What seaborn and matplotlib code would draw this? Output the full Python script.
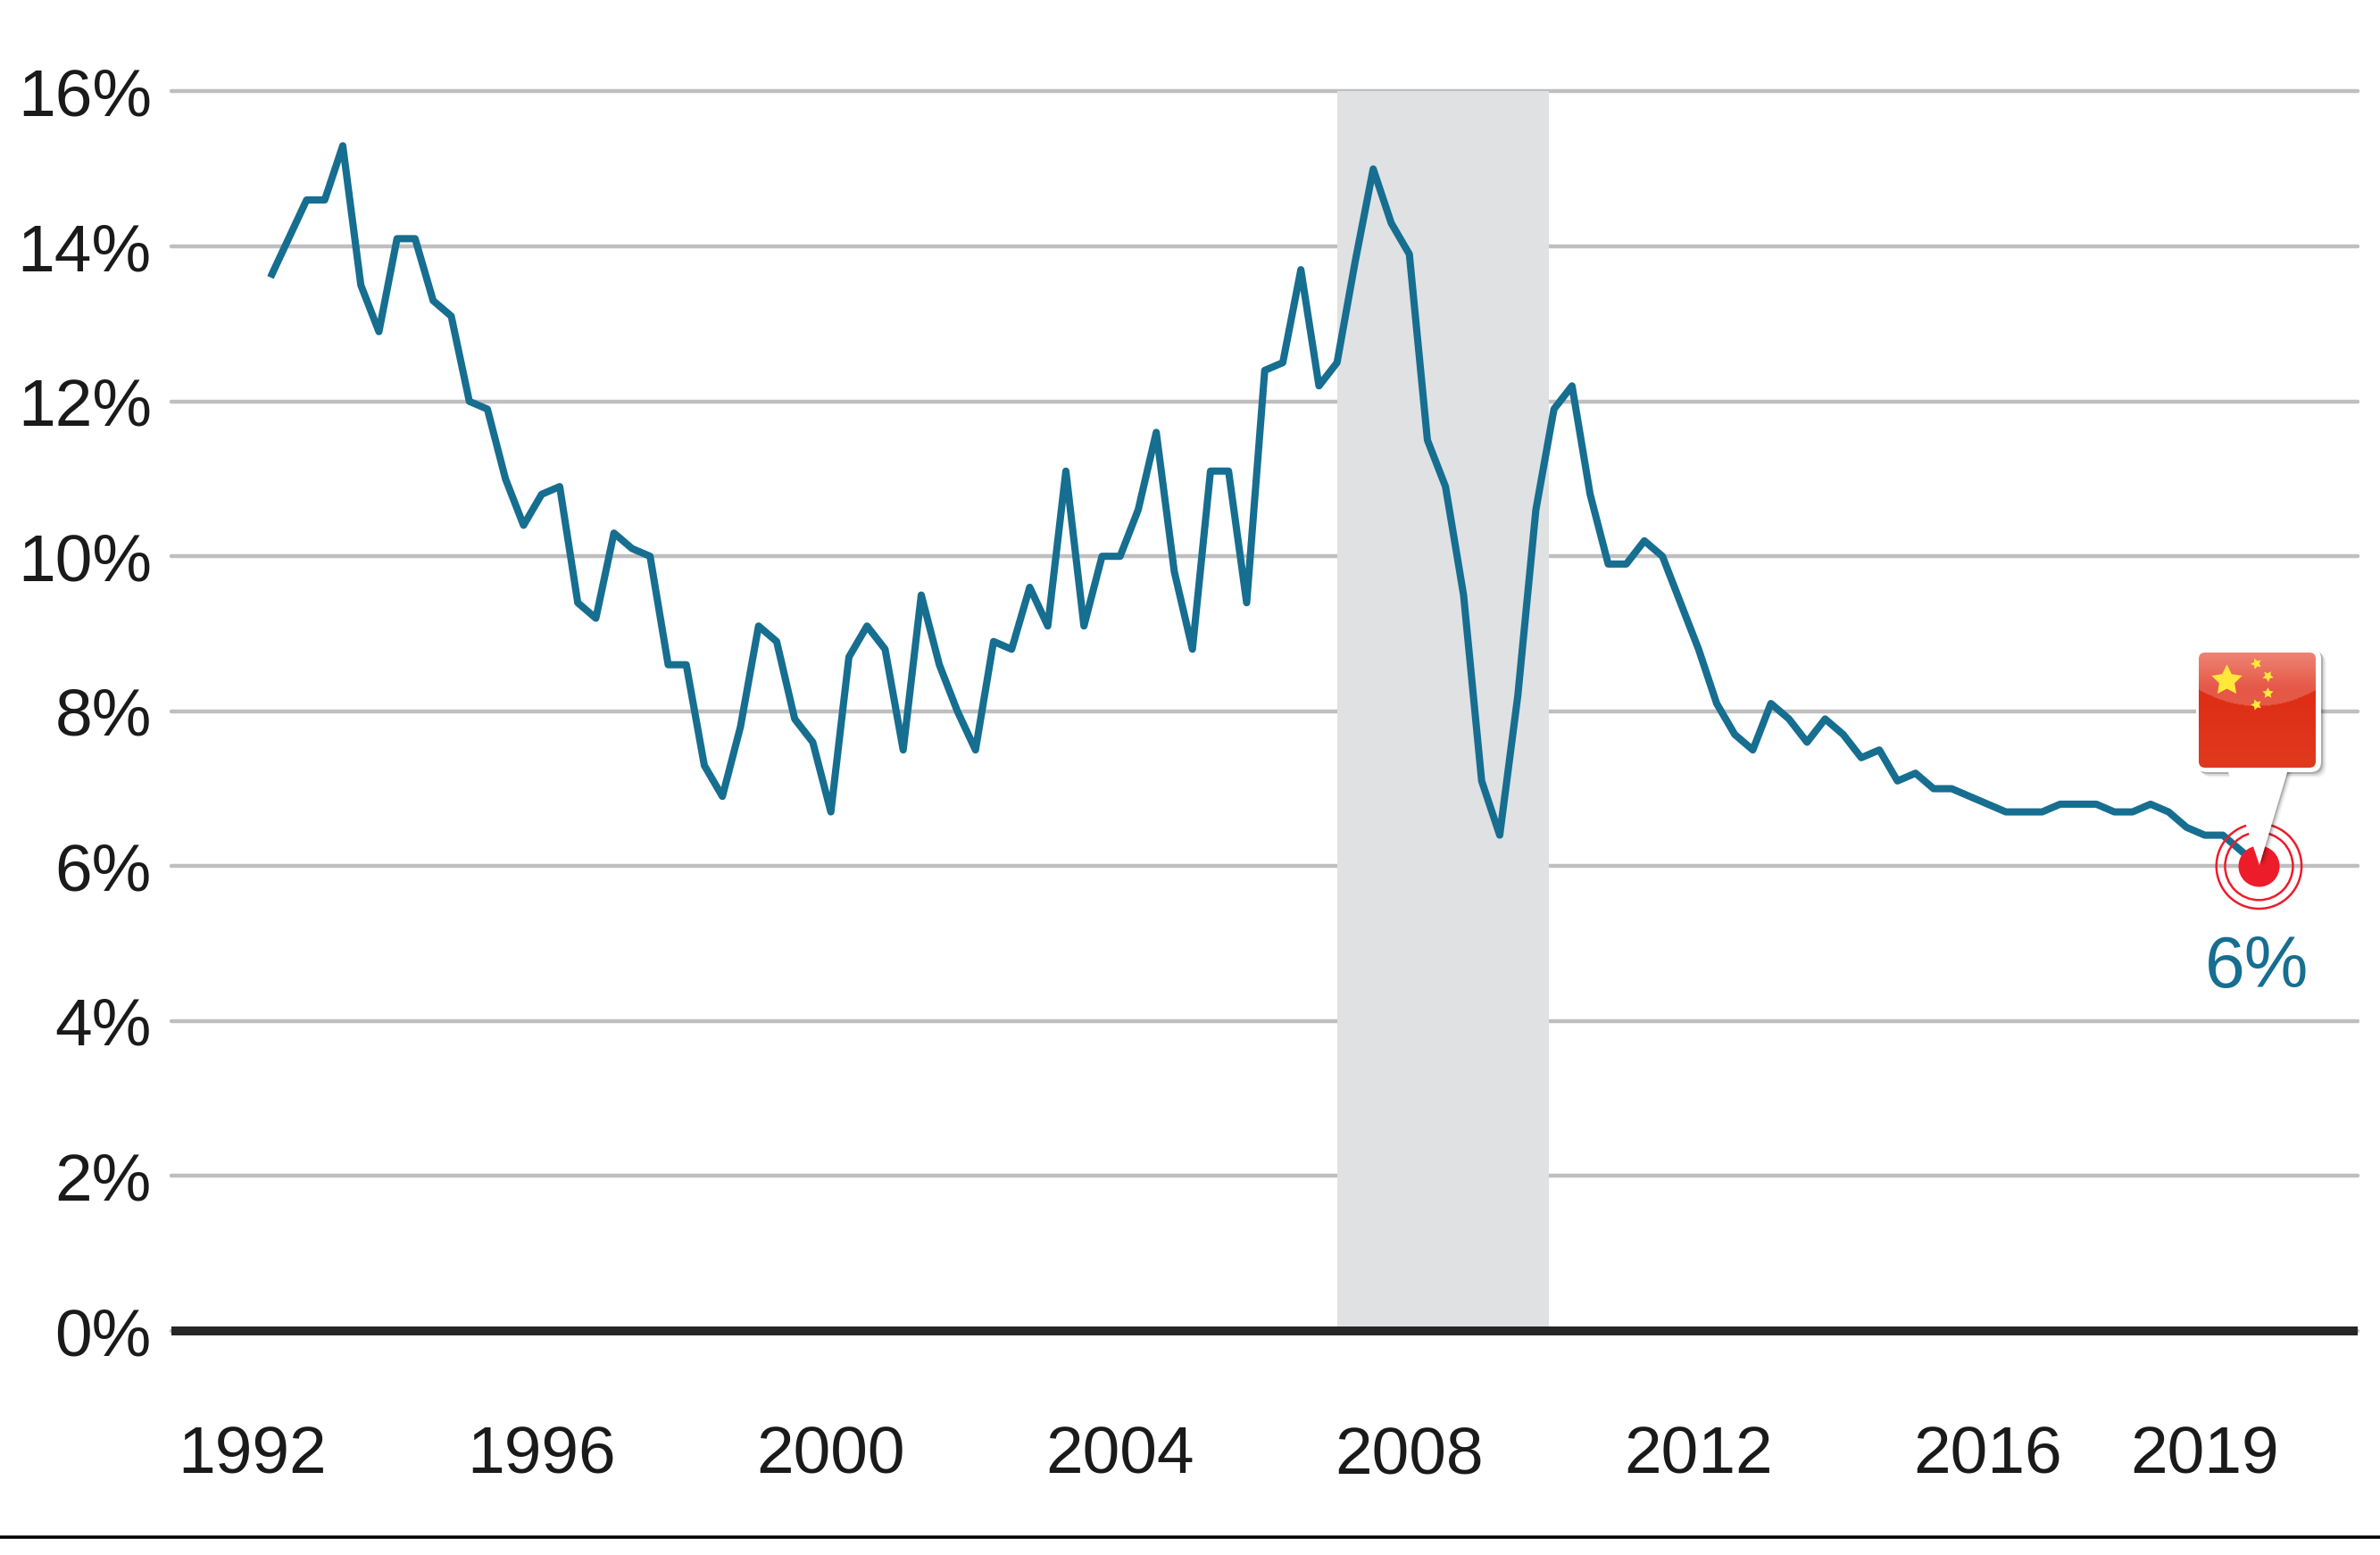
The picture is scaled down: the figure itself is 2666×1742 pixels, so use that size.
import numpy as np
import pandas as pd
import seaborn as sns
import matplotlib
matplotlib.use('Agg')
from matplotlib import pyplot as plt
from matplotlib.lines import Line2D
from matplotlib.patches import FancyBboxPatch, Polygon

# China GDP growth, quarterly, 1992 Q1 to 2019 Q3
growth = [13.6, 14.1, 14.6, 14.6, 15.3, 13.5, 12.9, 14.1, 14.1, 13.3, 13.1, 12.0,
          11.9, 11.0, 10.4, 10.8, 10.9, 9.4, 9.2, 10.3, 10.1, 10.0, 8.6, 8.6,
          7.3, 6.9, 7.8, 9.1, 8.9, 7.9, 7.6, 6.7, 8.7, 9.1, 8.8, 7.5,
          9.5, 8.6, 8.0, 7.5, 8.9, 8.8, 9.6, 9.1, 11.1, 9.1, 10.0, 10.0,
          10.6, 11.6, 9.8, 8.8, 11.1, 11.1, 9.4, 12.4, 12.5, 13.7, 12.2, 12.5,
          13.8, 15.0, 14.3, 13.9, 11.5, 10.9, 9.5, 7.1, 6.4, 8.2, 10.6, 11.9,
          12.2, 10.8, 9.9, 9.9, 10.2, 10.0, 9.4, 8.8, 8.1, 7.7, 7.5, 8.1,
          7.9, 7.6, 7.9, 7.7, 7.4, 7.5, 7.1, 7.2, 7.0, 7.0, 6.9, 6.8,
          6.7, 6.7, 6.7, 6.8, 6.8, 6.8, 6.7, 6.7, 6.8, 6.7, 6.5, 6.4,
          6.4, 6.2, 6.0]
year_labels = ['1992', '1996', '2000', '2004', '2008', '2012', '2016', '2019']
year_ticks = [-1, 15, 31, 47, 63, 79, 95, 107]
pct_ticks = [0, 2, 4, 6, 8, 10, 12, 14, 16]
shade_span = [59, 70.7]

BLUE = '#166E90'
RED = '#ED1C2A'
INK = '#1A1A1A'

sns.set_theme(style='white')
plt.rcParams['font.family'] = ['Liberation Sans', 'DejaVu Sans']

W, H = 2666, 1742
fig = plt.figure(figsize=(W / 100, H / 100), dpi=100, facecolor='white')
ax = fig.add_axes([192 / W, 1 - 1491 / H, (2641 - 192) / W, (1491 - 102.5) / H])

df = pd.DataFrame({'quarter': np.arange(len(growth)), 'growth': growth})

ax.axvspan(shade_span[0], shade_span[1], color='#DFE1E3', lw=0, zorder=1.5)
sns.lineplot(data=df, x='quarter', y='growth', ax=ax, color=BLUE, linewidth=5.8,
             estimator=None, zorder=3, solid_joinstyle='round', solid_capstyle='butt')

last_x, last_y = df.quarter.iloc[-1], df.growth.iloc[-1]
ax.scatter([last_x], [last_y], s=1100, color=RED, lw=0, zorder=4)
ax.scatter([last_x], [last_y], s=2993, facecolor='none', edgecolor=RED, lw=1.8, zorder=4)
ax.scatter([last_x], [last_y], s=4716, facecolor='none', edgecolor=RED, lw=1.8, zorder=4)
ax.text(last_x - 0.1, 4.68, '6%', color=BLUE, fontsize=58, ha='center', va='center', zorder=4)

ax.set_xlim(-5.48, 115.46)
ax.set_ylim(0, 16)
ax.set_xticks(year_ticks)
ax.set_xticklabels(year_labels)
ax.set_yticks(pct_ticks)
ax.set_yticklabels(['%d%%' % p for p in pct_ticks])
ax.set_xlabel('')
ax.set_ylabel('')
ax.tick_params(axis='x', length=0, pad=76, labelsize=54, labelcolor=INK)
ax.tick_params(axis='y', length=0, pad=16, labelsize=54, labelcolor=INK)
ax.set_axisbelow(True)
ax.yaxis.grid(True, color='#BFBFBF', linewidth=3.2)
ax.xaxis.grid(False)
for gl in ax.get_ygridlines():
    gl.set_clip_on(False)

sns.despine(ax=ax, left=True, top=True, right=True)
ax.spines['bottom'].set_color('#262626')
ax.spines['bottom'].set_linewidth(7.2)
ax.spines['bottom'].set_capstyle('butt')
ax.spines['bottom'].set_zorder(5)

# rule along the bottom of the page
fig.add_artist(Line2D([0, 1], [1 - 1721.7 / H] * 2, color='black', lw=2.6))

# flag callout, drawn in pixel coordinates on top of the chart
pin = fig.add_axes([0, 0, 1, 1], zorder=10)
pin.patch.set_alpha(0)
pin.axis('off')

tri = [(2495, 862), (2563, 862), (2531, 969)]
for off, a in [(6, 0.05), (4, 0.1), (2, 0.2)]:
    pin.add_patch(Polygon([(x + off, y) for x, y in tri], fc='black', ec='none', alpha=a))
    pin.add_patch(FancyBboxPatch((2466 + off, 732 + off), 128, 127,
                                 boxstyle='round,pad=6,rounding_size=12',
                                 fc='black', ec='none', alpha=a))
pin.add_patch(FancyBboxPatch((2466, 732), 128, 127, boxstyle='round,pad=6,rounding_size=12',
                             fc='white', ec='none'))
pin.add_patch(Polygon(tri, fc='white', ec='none'))

# flag face with its gloss
fx0, fx1, fy0, fy1 = 2463, 2594, 731, 860
ny, nx = fy1 - fy0, fx1 - fx0
yy, xx = np.mgrid[0:ny, 0:nx]
face = np.zeros((ny, nx, 3))
base = np.array([0xDD, 0x27, 0x10]) / 255
base2 = np.array([0xE0, 0x3A, 0x1E]) / 255
t = yy / (ny - 1)
for c in range(3):
    face[..., c] = base[c] + (base2[c] - base[c]) * t
arc = 42 + 18 * (1 - ((xx - nx / 2) / (nx / 2)) ** 2)
gloss = yy < arc
top = np.array([0xEE, 0x85, 0x75]) / 255
low = np.array([0xE6, 0x58, 0x47]) / 255
mix = np.clip(yy / 40.0, 0, 1)
for c in range(3):
    face[..., c][gloss] = (top[c] + (low[c] - top[c]) * mix)[gloss]
im = pin.imshow(face, extent=(fx0, fx1, fy1, fy0), aspect='auto', zorder=2)
clip = FancyBboxPatch((fx0 + 7, fy0 + 7), nx - 14, ny - 14, boxstyle='round,pad=7,rounding_size=7',
                      fc='none', ec='none', transform=pin.transData)
pin.add_patch(clip)
im.set_clip_path(clip)

pin.scatter([2494], [762], s=680, marker=(5, 1, 0), color='#FFE83A', lw=0, zorder=3)
for sx, sy, ang in [(2527, 743, 20), (2540, 757, 40), (2540, 776, 0), (2527, 789, 20)]:
    pin.scatter([sx], [sy], s=85, marker=(5, 1, ang), color='#FFE83A', lw=0, zorder=3)

pin.set_xlim(0, W)
pin.set_ylim(H, 0)

fig.savefig('out.png', dpi=100)
